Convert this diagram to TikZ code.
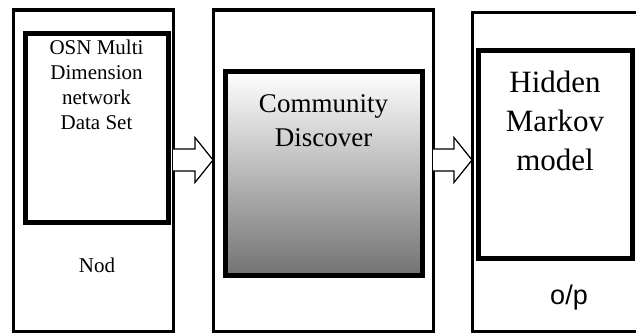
\documentclass[tikz,border=0pt]{standalone}
\usepackage{fontspec}
\setmainfont{Liberation Serif}
\newfontfamily\opfont{Liberation Sans}
\usetikzlibrary{positioning,calc}

\begin{document}
\begin{tikzpicture}[x=1pt,y=1pt,
    outer box/.style={draw,line width=3pt,outer sep=0pt,inner sep=0pt},
    inner box/.style={draw,line width=5pt,outer sep=0pt,inner sep=0pt},
    box text/.style={inner sep=0pt,align=center}]
    \useasboundingbox (0,0) rectangle (636,333);
    \clip (0,0) rectangle (636,333);

    \node[outer box, minimum width=160, minimum height=321] (1) at (93,162.5) {};
    \node[outer box, minimum width=220, minimum height=321] (2) at (323,162.5) {};
    \node[outer box, minimum width=188, minimum height=319] (3) at (566,161.5) {};

    \node[inner box, minimum width=143, minimum height=189] (a) at (96.5,205.5) {};
    \node[inner box, minimum width=197, minimum height=204, top color=white, bottom color=black!55] (b) at (323.5,160) {};
    \node[inner box, minimum width=154, minimum height=208] (c) at (555,179) {};

    \node[box text, font={\fontsize{21}{25}\selectfont}, below=7pt of a.north] (ta) {OSN Multi\\Dimension\\network\\Data Set};
    \node[box text, font={\fontsize{27}{34}\selectfont}, below=23pt of b.north] (tb) {Community\\Discover};
    \node[box text, font={\fontsize{31}{39}\selectfont}, below=21pt of c.north] (tc) {Hidden\\Markov\\model};

    \node[box text, font={\fontsize{21}{25}\selectfont}] (nod) at (97,68) {Nod};
    \node[box text, font={\opfont\fontsize{27}{32}\selectfont}] (op) at (569,35) {o/p};

    % block arrows between the stages
    \foreach \u/\v in {1/2, 2/3}
        \draw[line width=1.2pt, fill=white, line join=miter]
            (\u.east |- 0,184) -- ($(\v.west |- 0,184)+(-18,0)$) -- ++(0,11.5)
            -- (\v.west |- 0,173) -- ($(\v.west |- 0,162)+(-18,-11.5)$) -- ++(0,11.5)
            -- (\u.east |- 0,162);
\end{tikzpicture}
\end{document}
